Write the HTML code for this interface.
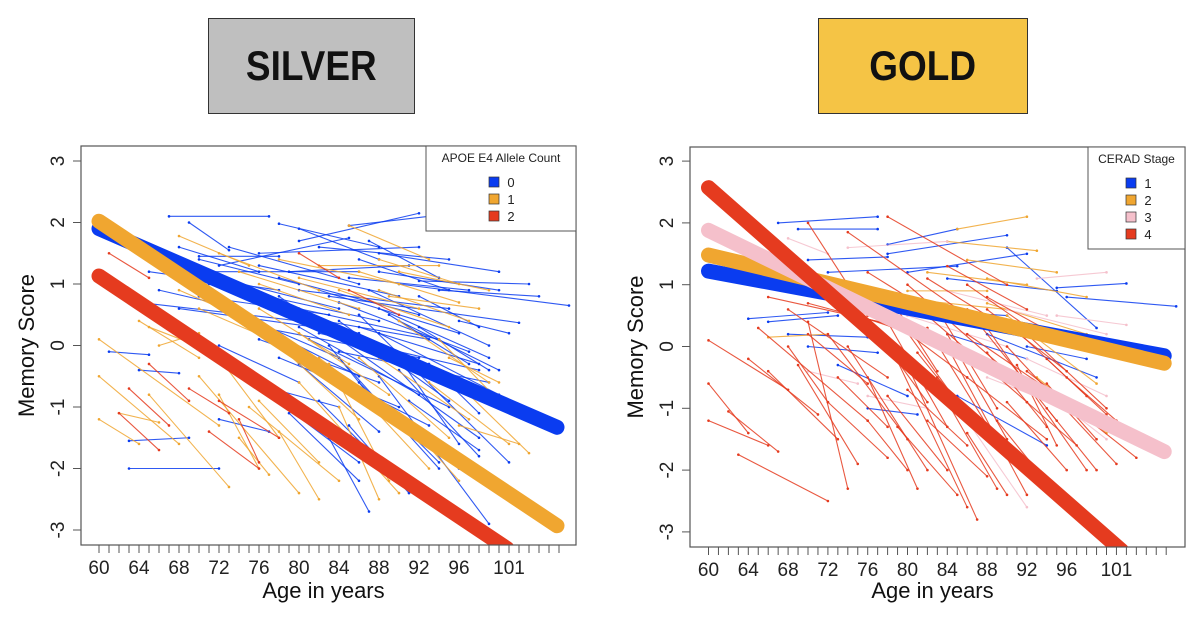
<!DOCTYPE html>
<html><head><meta charset="utf-8">
<style>
html,body{margin:0;padding:0;background:#fff;}
body{width:1199px;height:619px;overflow:hidden;position:relative;font-family:"Liberation Sans",sans-serif;}
.tbox{position:absolute;top:18px;width:207px;height:96px;border:1.5px solid #333;display:flex;align-items:center;justify-content:center;font-weight:bold;font-size:42px;color:#111;box-sizing:border-box;}
.tbox span{display:inline-block;transform:scaleX(0.88);}
svg{position:absolute;left:0;top:0;}
</style></head>
<body>
<div class="tbox" style="left:208px;background:#bfbfbf;"><span>SILVER</span></div>
<div class="tbox" style="left:818px;width:210px;background:#f5c445;"><span>GOLD</span></div>
<svg id="chart" width="1199" height="619" xmlns="http://www.w3.org/2000/svg"></svg>
<script>
// ---- data ----
const xTickLabels = ["60","64","68","72","76","80","84","88","92","96","101"];
const xTickIdx = [0,4,8,12,16,20,24,28,32,36,41];
const yTicks = [-3,-2,-1,0,1,2,3];
const leftGroups = ["0","1","2"];
const rightGroups = ["1","2","3","4"];
const leftColors = ["#0a3cf0","#f0a630","#e53b1f"];
const rightColors = ["#0a3cf0","#f0a630","#f5c0cb","#e53b1f"];
// fit lines: [age0, score0, age1, score1]
const leftFits = [[60,1.9,105.8,-1.33],[60,2.02,105.8,-2.93],[60,1.13,100.8,-3.3]];
const rightFits = [[60,1.22,105.8,-0.15],[60,1.48,105.8,-0.27],[60,1.88,105.8,-1.7],[60,2.57,101.5,-3.3]];
const leftFitOrder = [2,0,1];
const rightFitOrder = [0,1,2,3];
// individual trajectories [age0, score0, age1, score1, group]
const leftTraj = [
[67,2.1,77,2.1,0],[69,2.0,73,1.55,0],[70,1.45,78,1.45,0],[78,1.98,88,1.6,0],[80,1.7,92,2.15,0],[85,1.95,93,2.1,0],[72,1.3,85,1.75,0],[88,1.5,100,1.2,0],[90,1.0,107,0.65,0],[92,1.05,103,1.0,0],[85,1.1,97,0.9,0],[83,0.8,102,0.37,0],[96,0.4,101,0.2,0],[80,0.9,95,0.6,0],[65,1.2,78,0.9,0],[64,0.7,80,0.4,0],[68,0.6,86,0.2,0],[76,0.3,92,-0.2,0],[82,0.2,98,-0.4,0],[84,-0.1,99,-0.6,0],[88,0.2,100,-0.8,0],[86,0.5,101,-1.9,0],[78,0.8,98,-1.5,0],[90,-0.2,96,-1.6,0],[80,-0.3,88,-1.4,0],[82,-0.9,90,-2.2,0],[83,-1.5,87,-2.7,0],[84,-0.2,94,-2.0,0],[88,-0.5,99,-2.9,0],[77,-0.8,86,-1.9,0],[75,-0.6,84,-1.0,0],[61,-0.1,65,-0.15,0],[64,-0.4,68,-0.45,0],[63,-1.55,69,-1.5,0],[63,-2.0,72,-2.0,0],[72,-1.2,77,-1.4,0],[92,0.8,98,0.3,0],[70,0.8,83,0.5,0],[86,1.4,95,0.9,0],[79,1.2,91,1.3,0],[71,1.0,88,0.0,0],[93,-0.3,98,-1.1,0],[75,0.4,86,-0.5,0],[81,0.1,95,-1.0,0],[73,1.6,86,1.0,0],[87,0.9,99,0.0,0],[89,0.5,97,-0.3,0],[79,0.5,93,0.1,0],
[70,1.4,80,1.0,0],[72,1.1,84,0.6,0],[74,0.9,88,0.4,0],[76,1.3,90,0.8,0],[78,1.1,92,0.5,0],[80,0.6,94,0.1,0],[82,0.9,96,0.2,0],[84,0.7,97,-0.1,0],[86,0.3,98,-0.3,0],[88,0.6,99,-0.2,0],[90,0.4,100,-0.4,0],[74,0.5,84,-0.2,0],[76,0.1,88,-0.6,0],[78,-0.2,90,-1.0,0],[80,0.3,92,-0.8,0],[82,-0.4,93,-1.3,0],[84,0.4,95,-0.9,0],[86,-0.6,94,-1.9,0],[88,-1.0,96,-2.0,0],[90,-0.4,98,-1.8,0],[92,0.3,99,-0.4,0],[70,1.2,86,1.2,0],[76,1.5,92,1.6,0],[82,1.6,95,1.4,0],[88,1.2,100,0.9,0],[94,0.9,104,0.8,0],[72,0.0,80,-0.6,0],[74,-0.3,83,-1.3,0],[79,-1.1,86,-2.2,0],[85,-1.3,91,-2.4,0],[68,1.6,76,1.2,0],[80,1.9,88,1.4,0],[66,0.9,74,0.6,0],[87,1.7,94,1.1,0],[91,-0.9,98,-1.7,0],[83,0.0,89,-1.2,0],
[68,1.78,75,1.3,1],[85,1.95,93,1.4,1],[88,1.4,96,1.0,1],[89,0.8,98,0.6,1],[65,0.3,73,-0.2,1],[66,0,70,0.2,1],[60,0.1,72,-1.3,1],[60,-0.5,68,-1.6,1],[60,-1.2,64,-1.6,1],[62,-1.1,66,-1.25,1],[65,-0.8,73,-2.3,1],[70,-0.5,80,-2.4,1],[72,-0.8,76,-2.0,1],[75,-1.0,84,-2.2,1],[80,-0.6,90,-2.4,1],[84,-1.0,88,-2.5,1],[86,-0.2,95,-1.5,1],[93,-0.6,101,-1.6,1],[97,-0.8,103,-1.75,1],[90,0.4,99,-0.6,1],[76,1.0,85,0.5,1],[82,1.3,94,1.3,1],[70,0.6,80,-0.1,1],[78,0.0,86,-1.2,1],[64,0.4,70,-0.2,1],[88,0.9,97,0.4,1],[83,-0.3,89,-2.2,1],[95,-0.2,100,-0.6,1],
[72,1.5,82,0.9,1],[74,1.2,86,0.6,1],[78,1.4,90,1.0,1],[80,1.1,92,0.6,1],[84,0.9,95,0.3,1],[86,1.2,96,0.7,1],[90,1.2,99,0.9,1],[76,0.6,85,-0.3,1],[80,0.2,89,-0.8,1],[82,-0.2,92,-1.4,1],[85,-0.6,93,-2.0,1],[88,-0.2,97,-1.2,1],[68,0.9,78,0.2,1],[72,-0.2,78,-1.5,1],[76,-0.9,82,-1.9,1],[78,-1.4,82,-2.5,1],[74,-1.5,77,-2.1,1],[90,-1.1,96,-2.2,1],[94,0.1,100,-0.9,1],[96,-1.3,102,-1.6,1],
[61,1.5,65,1.1,2],[65,-0.3,69,-0.9,2],[63,-0.7,67,-1.3,2],[62,-1.1,66,-1.7,2],[69,-0.7,73,-1.1,2],[71,-1.4,76,-2.0,2],[72,-0.9,78,-1.5,2],[74,-1.2,76,-1.9,2],[80,1.5,84,1.1,2],[85,0.9,90,0.5,2]
];
const rightTraj = [
[67,2.0,77,2.1,0],[69,1.9,77,1.9,0],[78,1.65,85,1.9,0],[78,1.5,90,1.8,0],[70,1.4,78,1.45,0],[72,1.2,85,1.3,0],[80,1.2,92,1.5,0],[84,1.1,95,0.9,0],[95,0.95,102,1.02,0],[96,0.8,107,0.65,0],[64,0.45,72,0.55,0],[66,0.4,73,0.5,0],[68,0.2,76,0.15,0],[70,0.0,77,-0.1,0],[73,-0.3,80,-0.8,0],[76,-1.0,81,-1.1,0],[85,-0.8,94,-1.6,0],[88,0.2,99,-0.5,0],[90,1.6,99,0.3,0],[92,0.0,98,-0.2,0],[80,0.6,90,0.5,0],[84,0.2,92,-0.2,0],[74,0.7,82,0.6,0],
[85,1.9,92,2.1,1],[84,1.7,93,1.55,1],[86,1.4,95,1.2,1],[88,1.1,98,0.8,1],[66,0.15,72,0.2,1],[90,0.5,99,-0.6,1],[93,-0.5,100,-1.4,1],[78,0.8,90,0.6,1],[82,1.2,92,1.0,1],[88,0.7,98,0.2,1],[80,0.9,88,0.9,1],
[68,1.75,72,1.5,2],[74,1.6,84,1.7,2],[93,1.1,100,1.2,2],[95,0.5,102,0.35,2],[92,-0.2,100,-0.8,2],[86,-1.2,92,-2.6,2],[96,-1.0,100,-1.5,2],[78,0.7,88,0.4,2],[70,-0.4,75,-0.6,2],[80,0.5,90,0.0,2],[84,0.9,94,0.5,2],[88,-0.5,96,-1.0,2],[90,0.6,100,0.2,2],[76,-0.8,82,-1.0,2],
[60,0.1,68,-0.7,3],[60,-0.6,64,-1.4,3],[60,-1.2,66,-1.6,3],[62,-1.05,67,-1.7,3],[63,-1.75,72,-2.5,3],[64,-0.2,71,-1.1,3],[66,-0.4,73,-1.5,3],[65,0.3,76,-1.2,3],[69,-0.3,75,-1.9,3],[70,2.0,76,0.5,3],[74,1.85,86,0.5,3],[78,2.1,90,1.0,3],[66,0.8,80,0.3,3],[68,0.6,78,-0.5,3],[70,0.4,74,-2.3,3],[72,0.2,80,-1.5,3],[74,0.0,82,-2.0,3],[76,-0.5,81,-2.3,3],[78,0.1,86,-2.6,3],[80,-0.3,87,-2.8,3],[82,0.3,90,-1.8,3],[84,0.0,92,-2.4,3],[86,0.6,95,-1.2,3],[88,0.3,98,-2.0,3],[90,0.0,101,-1.9,3],[92,-0.4,103,-1.8,3],[80,0.8,94,0.2,3],[84,1.3,92,0.6,3],[76,1.2,82,0.6,3],[86,-0.5,94,-1.5,3],[72,-0.9,78,-1.8,3],[78,-0.8,84,-2.0,3],[70,0.7,84,0.1,3],[82,-1.2,88,-2.1,3],[90,-0.9,96,-2.0,3],[88,0.8,97,0.0,3],[75,0.5,88,-0.2,3],[77,0.9,85,-0.9,3],[83,0.6,89,-1.0,3],[79,-1.3,85,-2.4,3],[94,-0.6,99,-1.5,3],[71,0.9,79,-0.1,3],
[74,1.0,82,0.2,3],[76,0.7,86,-0.5,3],[78,0.4,84,-1.3,3],[80,1.0,90,-0.4,3],[82,0.5,92,-0.9,3],[84,0.2,90,-1.5,3],[86,0.2,96,-0.9,3],[88,-0.1,94,-1.3,3],[90,0.4,98,-0.8,3],[92,0.2,100,-1.0,3],[94,-0.2,100,-1.1,3],[80,-0.7,86,-1.6,3],[84,-0.9,89,-2.3,3],[86,-1.4,90,-2.4,3],[76,-1.2,80,-2.0,3],[73,-0.5,78,-1.3,3],[70,0.2,76,-0.6,3],[68,0.0,72,-0.9,3],[82,1.1,90,0.3,3],[86,1.0,94,0.1,3],[88,0.6,96,-0.4,3],[92,-0.9,97,-1.6,3],[96,-0.5,101,-1.2,3],[79,0.6,83,-0.4,3],[81,-0.1,86,-1.1,3],[77,0.2,82,-0.9,3],[83,-0.5,88,-1.4,3],[89,-1.2,93,-2.0,3],[94,-1.0,99,-2.0,3],[91,-0.3,95,-1.6,3]
];

const NS="http://www.w3.org/2000/svg";
const svg=document.getElementById('chart');
function mk(tag,attrs,parent){const e=document.createElementNS(NS,tag);for(const k in attrs)e.setAttribute(k,attrs[k]);(parent||svg).appendChild(e);return e;}

function panel(o){
  const xs=a=>o.x60+(a-60)*o.dx;
  const ys=v=>o.y0-v*o.dy;
  const g=mk('g',{});
  
  
  const clip=mk('clipPath',{id:o.name+'-clip'},g);
  mk('rect',{x:o.L,y:o.T,width:o.R-o.L,height:o.B-o.T},clip);
  const plot=mk('g',{'clip-path':'url(#'+o.name+'-clip)'},g);
  o.traj.forEach(t=>{
    const c=o.colors[t[4]];
    const ln=mk('line',{x1:xs(t[0]),y1:ys(t[1]),x2:xs(t[2]),y2:ys(t[3]),stroke:c,'stroke-width':1.1,'stroke-opacity':0.85},plot);
    
    
    [[t[0],t[1]],[t[2],t[3]]].forEach(p=>{
      const d=mk('circle',{cx:xs(p[0]),cy:ys(p[1]),r:1.3,fill:c},plot);
      
      
    });
  });
  o.fitOrder.forEach(i=>{
    const f=o.fits[i];
    const ln=mk('line',{x1:xs(f[0]),y1:ys(f[1]),x2:xs(f[2]),y2:ys(f[3]),stroke:o.colors[i],'stroke-width':15,'stroke-linecap':'round'},plot);
    
    
  });
  const box=mk('rect',{x:o.L,y:o.T,width:o.R-o.L,height:o.B-o.T,fill:'none',stroke:'#555','stroke-width':1.2},g);
  
  
  for(let i=0;i<=46;i++){
    mk('line',{x1:xs(60+i),y1:o.B,x2:xs(60+i),y2:o.B+8,stroke:'#555','stroke-width':1},g);
  }
  xTickIdx.forEach((idx,k)=>{
    const t=mk('text',{x:xs(60+idx),y:o.B+29,'text-anchor':'middle','font-size':19,fill:'#222'},g);
    t.textContent=xTickLabels[k];
    
    
  });
  yTicks.forEach(v=>{
    mk('line',{x1:o.L-8,y1:ys(v),x2:o.L,y2:ys(v),stroke:'#555','stroke-width':1},g);
    const tx=o.L-17;
    const t=mk('text',{x:tx,y:ys(v),transform:'rotate(-90 '+tx+' '+ys(v)+')','text-anchor':'middle','font-size':19,fill:'#222'},g);
    t.textContent=String(v);
    
    
  });
  const xt=mk('text',{x:(o.L+o.R)/2-5,y:598,'text-anchor':'middle','font-size':22,fill:'#111'},g);
  xt.textContent='Age in years';
  
  
  const yx=o.L-47, yy=(o.T+o.B)/2;
  const yt=mk('text',{x:yx,y:yy,transform:'rotate(-90 '+yx+' '+yy+')','text-anchor':'middle','font-size':22,fill:'#111'},g);
  yt.textContent='Memory Score';
  
  
  const lg=mk('g',{},g);
  
  
  mk('rect',{x:o.lx,y:o.T,width:o.R-o.lx,height:o.lh,fill:'#fff',stroke:'#555','stroke-width':1},lg);
  const lt=mk('text',{x:(o.lx+o.R)/2,y:o.T+16,'text-anchor':'middle','font-size':12,fill:'#222'},lg);
  lt.textContent=o.ltitle;
  
  
  o.groups.forEach((gname,i)=>{
    const ry=o.T+36+i*17;
    const e=mk('g',{},lg);
    
    
    mk('rect',{x:o.sx-5,y:ry-5,width:10,height:10,fill:o.colors[i],stroke:'#333','stroke-width':0.7},e);
    const tt=mk('text',{x:o.sx+17,y:ry+5,'text-anchor':'middle','font-size':13,fill:'#222'},e);
    tt.textContent=gname;
  });
}

panel({name:'silver',L:81,R:576,T:146,B:545,x60:99,dx:10.0,y0:345.5,dy:61.5,traj:leftTraj,fits:leftFits,fitOrder:leftFitOrder,colors:leftColors,groups:leftGroups,lx:426,lh:85,ltitle:'APOE E4 Allele Count',sx:494});
panel({name:'gold',L:690,R:1185,T:147,B:547,x60:708.5,dx:9.95,y0:346.5,dy:61.8,traj:rightTraj,fits:rightFits,fitOrder:rightFitOrder,colors:rightColors,groups:rightGroups,lx:1088,lh:102,ltitle:'CERAD Stage',sx:1131});
</script>
</body></html>
